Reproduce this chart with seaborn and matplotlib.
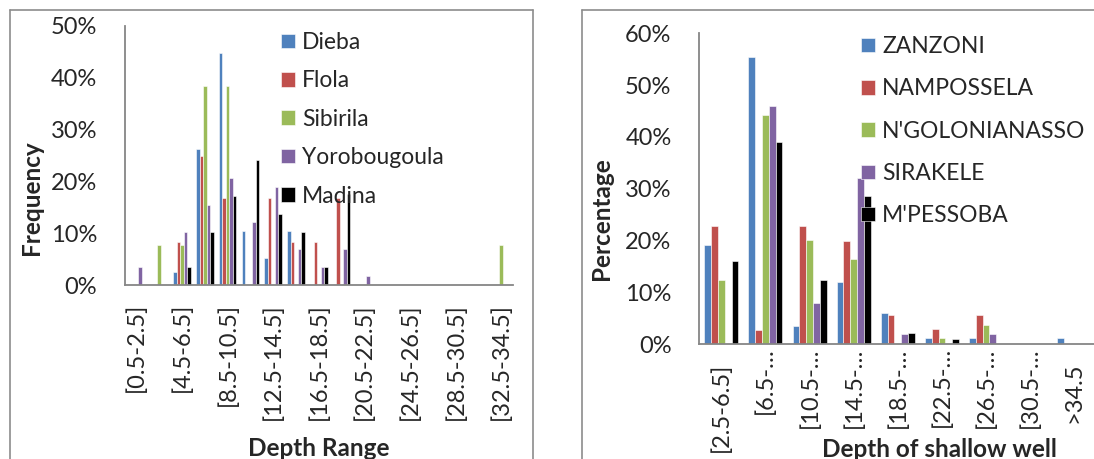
import numpy as np
import pandas as pd
import matplotlib
matplotlib.use("Agg")
import matplotlib.pyplot as plt
import seaborn as sns
from matplotlib.ticker import PercentFormatter
from matplotlib.lines import Line2D
from matplotlib.transforms import ScaledTranslation

# ---- Depth distribution per village (percent of wells) ----
depth_ranges = ["[0.5-2.5]", "[2.5-4.5]", "[4.5-6.5]", "[6.5-8.5]", "[8.5-10.5]",
                "[10.5-12.5]", "[12.5-14.5]", "[14.5-16.5]", "[16.5-18.5]",
                "[18.5-20.5]", "[20.5-22.5]", "[22.5-24.5]", "[24.5-26.5]",
                "[26.5-28.5]", "[28.5-30.5]", "[30.5-32.5]", "[32.5-34.5]"]
dieba = [0, 0, 2.6, 26.3, 44.7, 10.5, 5.3, 10.5, 0, 0, 0, 0, 0, 0, 0, 0, 0]
flola = [0, 0, 8.3, 25.0, 16.7, 0, 16.7, 8.3, 8.3, 16.7, 0, 0, 0, 0, 0, 0, 0]
sibirila = [0, 7.7, 7.7, 38.5, 38.5, 0, 0, 0, 0, 0, 0, 0, 0, 0, 0, 0, 7.7]
yorobougoula = [3.4, 0, 10.3, 15.5, 20.7, 12.1, 19.0, 6.9, 3.4, 6.9, 1.7, 0, 0, 0, 0, 0, 0]
madina = [0, 0, 3.4, 10.3, 17.2, 24.1, 13.8, 10.3, 3.4, 17.5, 0, 0, 0, 0, 0, 0, 0]
left_villages = ["Dieba", "Flola", "Sibirila", "Yorobougoula", "Madina"]

# ---- Shallow well depth per village (percent) ----
well_ranges = ["[2.5-6.5]", "[6.5-…", "[10.5-…", "[14.5-…", "[18.5-…",
               "[22.5-…", "[26.5-…", "[30.5-…", ">34.5"]
zanzoni = [19.2, 55.4, 3.6, 12.0, 6.0, 1.2, 1.2, 0, 1.2]
nampossela = [22.8, 2.8, 22.8, 20.0, 5.7, 2.9, 5.7, 0, 0]
ngolonianasso = [12.5, 44.2, 20.2, 16.4, 0, 1.2, 3.8, 0, 0]
sirakele = [0, 45.9, 7.9, 32.0, 1.9, 0, 1.9, 0, 0]
mpessoba = [16.0, 39.0, 12.5, 28.7, 2.2, 1.0, 0, 0, 0]
right_villages = ["ZANZONI", "NAMPOSSELA", "N'GOLONIANASSO", "SIRAKELE", "M'PESSOBA"]

palette = ["#4F81BD", "#C0504D", "#9BBB59", "#8064A2", "#000000"]

sns.set_style("white")
plt.rcParams["font.family"] = ["Lato", "DejaVu Sans"]
FS_TICK = 17
FS_TITLE = 17.5
FS_LEG = 16.5

W, H = 1094, 459
fig = plt.figure(figsize=(W / 100, H / 100), dpi=100)


def px_axes(x0, y_top, x1, y_bot):
    return fig.add_axes([x0 / W, 1 - y_bot / H, (x1 - x0) / W, (y_bot - y_top) / H])


def long_form(cats, names, series):
    rows = []
    for name, vals in zip(names, series):
        for c, v in zip(cats, vals):
            rows.append({"range": c, "village": name, "value": v})
    return pd.DataFrame(rows)


def style_axes(ax, cats, shown_labels, ymax, ylabel, xlabel, xlabel_x, xlabel_y, ylabel_x, ylabel_y):
    n = len(cats)
    ax.set_xlim(-0.5, n - 0.5)
    ax.set_ylim(0, ymax)
    ax.yaxis.set_major_formatter(PercentFormatter(100, decimals=0))
    ax.set_yticks(np.arange(0, ymax + 0.1, 10))
    ax.set_xticks(np.arange(n + 1) - 0.5, labels=[""] * (n + 1))
    ax.set_xticks(np.arange(n), labels=shown_labels, minor=True, rotation=90)
    ax.tick_params(axis="x", which="major", length=6, width=1.2, color="#868686", direction="out")
    ax.tick_params(axis="x", which="minor", length=0, pad=13, labelsize=FS_TICK)
    ax.tick_params(axis="y", length=8, width=1.2, color="#868686", direction="out",
                   labelsize=FS_TICK, pad=12)
    for s in ["top", "right"]:
        ax.spines[s].set_visible(False)
    for s in ["left", "bottom"]:
        ax.spines[s].set_color("#868686")
        ax.spines[s].set_linewidth(1.3)
    ax.set_ylabel(ylabel, fontsize=FS_TITLE, fontweight="bold")
    ax.set_xlabel(xlabel, fontsize=FS_TITLE, fontweight="bold")
    ax.yaxis.set_label_coords(ylabel_x, ylabel_y)
    ax.xaxis.set_label_coords(xlabel_x, xlabel_y)


def bars(ax, cats, names, series):
    df = long_form(cats, names, series)
    sns.barplot(data=df, x="range", y="value", hue="village", order=cats, hue_order=names,
                palette=palette, saturation=1, width=0.77, ax=ax, errorbar=None,
                edgecolor="white", linewidth=0.4)


def add_legend(ax, x_px, y_px, spacing):
    handles, labels = ax.get_legend_handles_labels()
    ax.get_legend().remove()
    fig.legend(handles, labels, loc="upper left", bbox_to_anchor=(x_px / W, 1 - y_px / H),
               frameon=False, fontsize=FS_LEG, handlelength=0.62, handleheight=0.6,
               handletextpad=0.3, labelspacing=spacing, borderpad=0, borderaxespad=0)


# Left chart: depth range histogram per village
axL = px_axes(125, 26, 512.6, 285)
bars(axL, depth_ranges, left_villages, [dieba, flola, sibirila, yorobougoula, madina])
shown = [c if i % 2 == 0 else "" for i, c in enumerate(depth_ranges)]
style_axes(axL, depth_ranges, shown, 50, "Frequency", "Depth Range",
           0.5, -0.587, -0.212, 0.336)
add_legend(axL, 281, 32, 0.76)

# Right chart: shallow well depth per village
axR = px_axes(699.3, 33.3, 1096.3, 344.3)
bars(axR, well_ranges, right_villages, [zanzoni, nampossela, ngolonianasso, sirakele, mpessoba])
style_axes(axR, well_ranges, [""] * len(well_ranges), 60, "Percentage", "Depth of shallow well",
           0.605, -0.301, -0.217, 0.403)
# category labels; the clipped ones ("…") start closer to the axis
for i, lab in enumerate(well_ranges):
    drop = 0.03 if lab.endswith("…") else 0.18
    axR.text(i, 0, lab, rotation=90, ha="center", va="top", fontsize=FS_TICK,
             transform=axR.get_xaxis_transform()
             + ScaledTranslation(0, -drop, fig.dpi_scale_trans))
add_legend(axR, 861, 36, 0.93)

# Chart-area borders
border = dict(color="#8c8c8c", linewidth=1.2, transform=fig.transFigure)
fig.add_artist(Line2D([10 / W, 10 / W], [0, 1 - 10 / H], **border))
fig.add_artist(Line2D([10 / W, 533 / W], [1 - 10 / H, 1 - 10 / H], **border))
fig.add_artist(Line2D([533 / W, 533 / W], [0, 1 - 10 / H], **border))
fig.add_artist(Line2D([582 / W, 582 / W], [0, 1 - 10 / H], **border))
fig.add_artist(Line2D([582 / W, 1], [1 - 10 / H, 1 - 10 / H], **border))

fig.savefig("out.png", dpi=100)
